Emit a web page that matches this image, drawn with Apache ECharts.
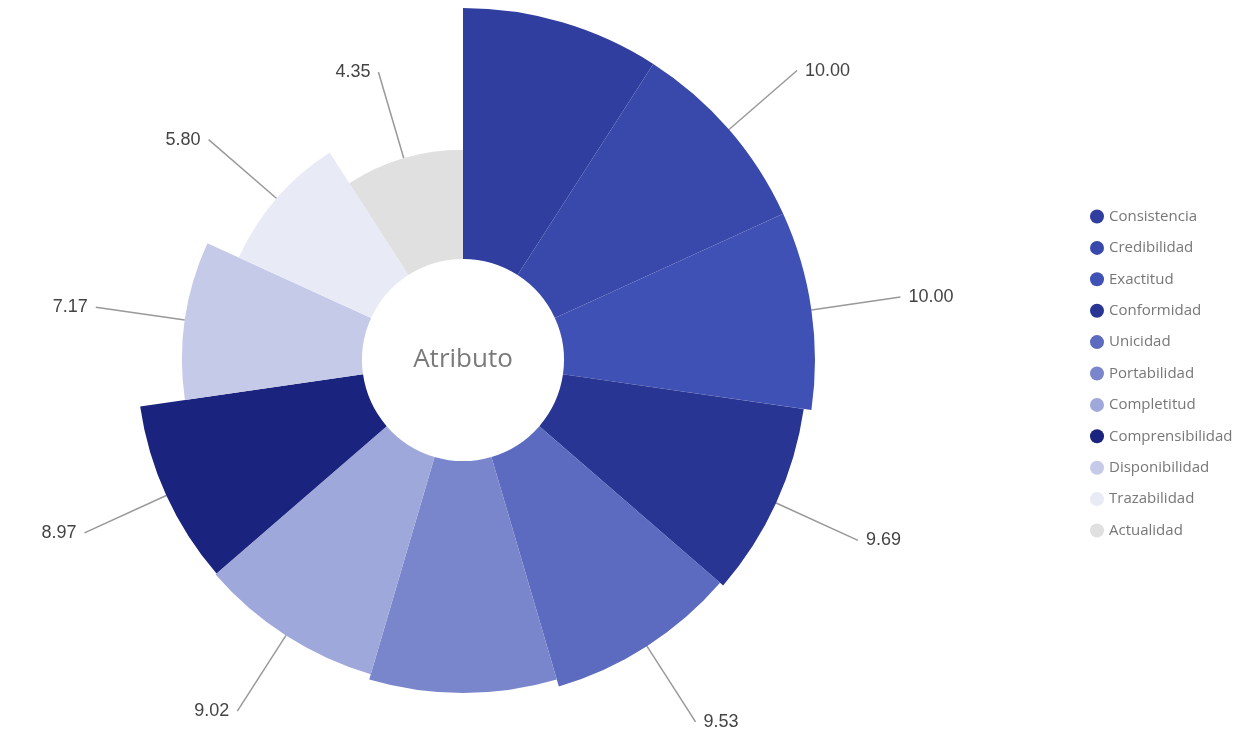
<!DOCTYPE html>
<html>
<head>
<meta charset="utf-8">
<script src="https://cdn.jsdelivr.net/npm/echarts@6/dist/echarts.min.js"></script>
<style>
html,body{margin:0;padding:0;background:#fff;}
#main{width:1242px;height:749px;}
</style>
</head>
<body>
<div id="main"></div>
<script>
var categories = ['Consistencia','Credibilidad','Exactitud','Conformidad','Unicidad','Portabilidad','Completitud','Comprensibilidad','Disponibilidad','Trazabilidad','Actualidad'];
var values = [10.00, 10.00, 10.00, 9.69, 9.53, 9.24, 9.02, 8.97, 7.17, 5.80, 4.35];
var colors = ['#303F9F','#3949AB','#3F51B5','#283593','#5C6BC0','#7986CB','#9FA8DA','#1A237E','#C5CAE9','#E8EAF6','#E0E0E0'];
var hiddenLabels = ['Consistencia','Portabilidad'];
var centerTitle = 'Atributo';

var innerR = 101, outerR = 352, lineLen = 90;
var maxVal = Math.max.apply(null, values);

var data = categories.map(function(name, i){
  // rose sectors end at different radii: start each label line at its own sector edge
  var sectorR = innerR + (outerR - innerR) * values[i] / maxVal;
  var item = {
    name: name,
    value: values[i],
    itemStyle: { color: colors[i] },
    labelLine: { length: lineLen - (outerR - sectorR) }
  };
  if (hiddenLabels.indexOf(name) >= 0) {
    item.label = { show: false };
    item.labelLine = { show: false };
  }
  return item;
});

var chart = echarts.init(document.getElementById('main'));
chart.setOption({
  animation: false,
  color: colors,
  legend: {
    orient: 'vertical',
    left: 1085,
    top: 204,
    icon: 'circle',
    itemWidth: 14,
    itemHeight: 14,
    itemGap: 16.4,
    textStyle: { fontFamily: 'Open Sans', fontSize: 15, color: '#777' },
    data: categories
  },
  graphic: [{
    type: 'text',
    x: 463,
    y: 360,
    z: 100,
    style: {
      text: centerTitle,
      align: 'center',
      verticalAlign: 'middle',
      fontFamily: 'Open Sans',
      fontSize: 26,
      fill: '#7a7a7a'
    }
  }],
  series: [{
    type: 'pie',
    roseType: 'area',
    center: [463, 360],
    radius: [innerR, outerR],
    startAngle: 90,
    clockwise: true,
    avoidLabelOverlap: false,
    itemStyle: { borderWidth: 0 },
    label: {
      show: true,
      position: 'outside',
      formatter: function(p){ return p.value.toFixed(2); },
      fontFamily: 'Liberation Sans',
      fontSize: 18,
      color: '#444',
      distanceToLabelLine: 8
    },
    labelLine: {
      show: true,
      length: lineLen,
      length2: 0,
      smooth: false,
      lineStyle: { color: '#999', width: 1.5 }
    },
    emphasis: { disabled: true },
    data: data
  }]
});
</script>
</body>
</html>
